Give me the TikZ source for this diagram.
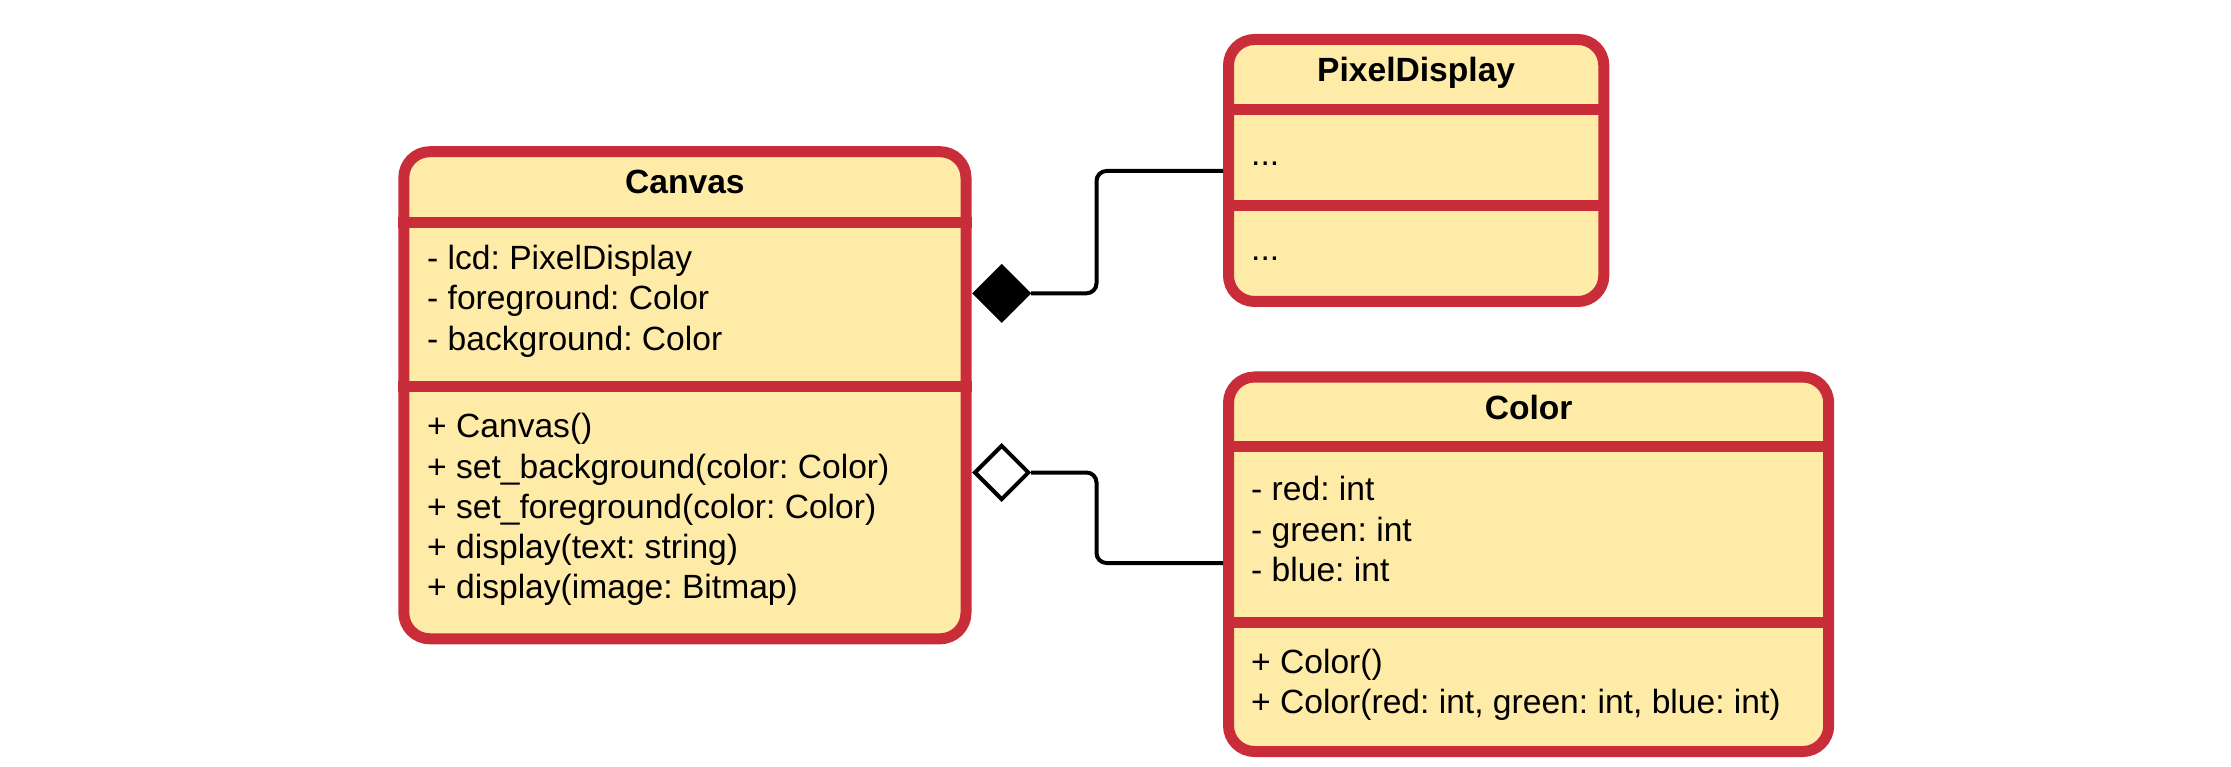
\documentclass[tikz,border=0pt]{standalone}
\usepackage{fontspec}
\setmainfont{Liberation Sans}
\usetikzlibrary{shapes.geometric}
\definecolor{umlred}{HTML}{C92D39}
\definecolor{umlfill}{HTML}{FFEBA8}
\frenchspacing
\begin{document}
\begin{tikzpicture}[x=1pt,y=-1pt,
 classbox/.style={rectangle, draw=umlred, fill=umlfill, line width=11pt, rounded corners=26pt, inner sep=0pt},
 sepline/.style={draw=umlred, line width=11pt},
 txt/.style={anchor=base west, inner sep=0pt, font=\fontsize{33.6}{40.3}\selectfont},
 ttl/.style={anchor=base, inner sep=0pt, font=\fontsize{33.6}{40.3}\selectfont\bfseries},
 conn/.style={draw=black, line width=4pt, rounded corners=10pt},
 diam/.style={diamond, draw=black, line width=4pt, minimum width=55pt, minimum height=55pt, inner sep=0pt}]
\useasboundingbox (0,0) rectangle (2231,767);

% connector bend points
\coordinate (c1) at (1096.5,293.3);
\coordinate (c2) at (1096.5,472.5);

% class boxes
\node[classbox, minimum width=562.2pt, minimum height=487.1pt] (canvas) at (684.9,395.25) {};
\draw[sepline] (canvas.west |- 0,222.8) -- (canvas.east |- 0,222.8);
\draw[sepline] (canvas.west |- 0,386.3) -- (canvas.east |- 0,386.3);

\node[classbox, minimum width=375.3pt, minimum height=262pt] (pd) at (1416.15,170.5) {};
\draw[sepline] (pd.west |- 0,110) -- (pd.east |- 0,110);
\draw[sepline] (pd.west |- 0,206) -- (pd.east |- 0,206);

\node[classbox, minimum width=600.2pt, minimum height=374.5pt] (col) at (1528.6,564.25) {};
\draw[sepline] (col.west |- 0,446) -- (col.east |- 0,446);
\draw[sepline] (col.west |- 0,622) -- (col.east |- 0,622);

% texts: Canvas
\node[ttl] (tcanvas) at (684.9,193.3) {Canvas};
\node[txt] (ca1) at (427,269.5) {- lcd: PixelDisplay};
\node[txt] (ca2) at (427,309.8) {- foreground: Color};
\node[txt] (ca3) at (427,350.1) {- background: Color};
\node[txt] (cm1) at (427,437.7) {+ Canvas()};
\node[txt] (cm2) at (427,478.0) {+ set\_background(color: Color)};
\node[txt] (cm3) at (427,518.3) {+ set\_foreground(color: Color)};
\node[txt] (cm4) at (427,558.6) {+ display(text: string)};
\node[txt] (cm5) at (427,598.9) {+ display(image: Bitmap)};

% texts: PixelDisplay
\node[ttl] (tpd) at (1416.15,81.7) {PixelDisplay};
\node[txt] (pa1) at (1251,166) {...};
\node[txt] (pm1) at (1251,261) {...};

% texts: Color
\node[ttl] (tcol) at (1528.6,419.3) {Color};
\node[txt] (ka1) at (1251,500.7) {- red: int};
\node[txt] (ka2) at (1251,541.0) {- green: int};
\node[txt] (ka3) at (1251,581.3) {- blue: int};
\node[txt] (km1) at (1251,673.3) {+ Color()};
\node[txt] (km2) at (1251,713.6) {+ Color(red: int, green: int, blue: int)};

% diamonds
\node[diam, fill=black] (comp) at (1001.7,293.3) {};
\node[diam, fill=white] (agg) at (1001.7,472.5) {};

\draw[conn] (comp.east) -- (c1) |- (pd.west |- 0,171);
\draw[conn] (agg.east) -- (c2) |- (col.west |- 0,563);
\end{tikzpicture}
\end{document}
